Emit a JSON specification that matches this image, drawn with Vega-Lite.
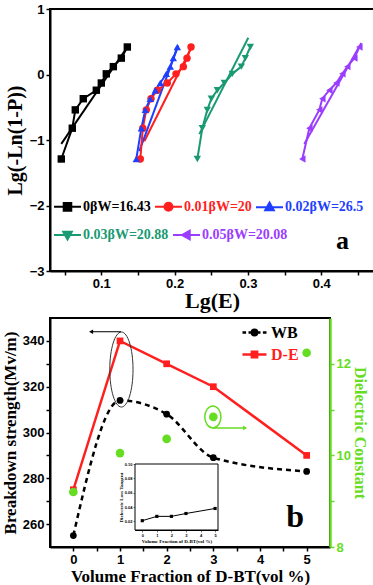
{
  "$schema": "https://vega.github.io/schema/vega-lite/v6.json",
  "padding": {"left": 0, "top": 2, "right": 0, "bottom": 0},
  "config": {
    "font": "Liberation Sans",
    "view": {"stroke": "black", "strokeWidth": 2},
    "axis": {"labelFont": "Liberation Sans", "labelFontWeight": "bold", "labelFontSize": 13, "labelColor": "black", "titleFont": "Liberation Serif", "titleFontWeight": "bold", "titleColor": "black", "domainColor": "black", "domainWidth": 2, "tickColor": "black", "tickWidth": 1.5, "tickSize": 4, "grid": false, "labelPadding": 2},
    "legend": {"title": null, "labelFont": "Liberation Serif", "labelFontWeight": "bold", "labelLimit": 0}
  },
  "datasets": {
    "weibull": [
      {"sample": "0βW=16.43", "lgE": 0.0454, "lgP": -1.29}, {"sample": "0βW=16.43", "lgE": 0.0604, "lgP": -0.82}, {"sample": "0βW=16.43", "lgE": 0.0645, "lgP": -0.54}, {"sample": "0βW=16.43", "lgE": 0.0754, "lgP": -0.37}, {"sample": "0βW=16.43", "lgE": 0.0932, "lgP": -0.24}, {"sample": "0βW=16.43", "lgE": 0.1000, "lgP": -0.13}, {"sample": "0βW=16.43", "lgE": 0.1068, "lgP": 0.01}, {"sample": "0βW=16.43", "lgE": 0.1164, "lgP": 0.12}, {"sample": "0βW=16.43", "lgE": 0.1273, "lgP": 0.25}, {"sample": "0βW=16.43", "lgE": 0.1355, "lgP": 0.42},
      {"sample": "0.01βW=20", "lgE": 0.1532, "lgP": -1.29}, {"sample": "0.01βW=20", "lgE": 0.1566, "lgP": -0.82}, {"sample": "0.01βW=20", "lgE": 0.1614, "lgP": -0.54}, {"sample": "0.01βW=20", "lgE": 0.1678, "lgP": -0.37}, {"sample": "0.01βW=20", "lgE": 0.1764, "lgP": -0.24}, {"sample": "0.01βW=20", "lgE": 0.1900, "lgP": -0.13}, {"sample": "0.01βW=20", "lgE": 0.2019, "lgP": 0.01}, {"sample": "0.01βW=20", "lgE": 0.2119, "lgP": 0.12}, {"sample": "0.01βW=20", "lgE": 0.2169, "lgP": 0.25}, {"sample": "0.01βW=20", "lgE": 0.2224, "lgP": 0.42},
      {"sample": "0.02βW=26.5", "lgE": 0.1477, "lgP": -1.29}, {"sample": "0.02βW=26.5", "lgE": 0.1546, "lgP": -0.82}, {"sample": "0.02βW=26.5", "lgE": 0.1600, "lgP": -0.54}, {"sample": "0.02βW=26.5", "lgE": 0.1668, "lgP": -0.37}, {"sample": "0.02βW=26.5", "lgE": 0.1737, "lgP": -0.24}, {"sample": "0.02βW=26.5", "lgE": 0.1805, "lgP": -0.13}, {"sample": "0.02βW=26.5", "lgE": 0.1887, "lgP": 0.01}, {"sample": "0.02βW=26.5", "lgE": 0.1941, "lgP": 0.12}, {"sample": "0.02βW=26.5", "lgE": 0.1982, "lgP": 0.25}, {"sample": "0.02βW=26.5", "lgE": 0.2037, "lgP": 0.42},
      {"sample": "0.03βW=20.88", "lgE": 0.2310, "lgP": -1.29}, {"sample": "0.03βW=20.88", "lgE": 0.2378, "lgP": -0.82}, {"sample": "0.03βW=20.88", "lgE": 0.2446, "lgP": -0.54}, {"sample": "0.03βW=20.88", "lgE": 0.2501, "lgP": -0.37}, {"sample": "0.03βW=20.88", "lgE": 0.2583, "lgP": -0.24}, {"sample": "0.03βW=20.88", "lgE": 0.2678, "lgP": -0.13}, {"sample": "0.03βW=20.88", "lgE": 0.2787, "lgP": 0.01}, {"sample": "0.03βW=20.88", "lgE": 0.2910, "lgP": 0.12}, {"sample": "0.03βW=20.88", "lgE": 0.2965, "lgP": 0.25}, {"sample": "0.03βW=20.88", "lgE": 0.3033, "lgP": 0.42},
      {"sample": "0.05βW=20.08", "lgE": 0.3742, "lgP": -1.29}, {"sample": "0.05βW=20.08", "lgE": 0.3838, "lgP": -0.82}, {"sample": "0.05βW=20.08", "lgE": 0.3974, "lgP": -0.54}, {"sample": "0.05βW=20.08", "lgE": 0.4015, "lgP": -0.37}, {"sample": "0.05βW=20.08", "lgE": 0.4111, "lgP": -0.24}, {"sample": "0.05βW=20.08", "lgE": 0.4206, "lgP": -0.13}, {"sample": "0.05βW=20.08", "lgE": 0.4288, "lgP": 0.01}, {"sample": "0.05βW=20.08", "lgE": 0.4356, "lgP": 0.12}, {"sample": "0.05βW=20.08", "lgE": 0.4452, "lgP": 0.25}, {"sample": "0.05βW=20.08", "lgE": 0.4520, "lgP": 0.42}
    ],
    "fits": [
      {"sample": "0βW=16.43", "lgE": 0.0454, "lgP": -1.06}, {"sample": "0βW=16.43", "lgE": 0.1355, "lgP": 0.42},
      {"sample": "0.01βW=20", "lgE": 0.1587, "lgP": -1.02}, {"sample": "0.01βW=20", "lgE": 0.2241, "lgP": 0.44},
      {"sample": "0.02βW=26.5", "lgE": 0.1518, "lgP": -1.17}, {"sample": "0.02βW=26.5", "lgE": 0.2050, "lgP": 0.44},
      {"sample": "0.03βW=20.88", "lgE": 0.2337, "lgP": -0.91}, {"sample": "0.03βW=20.88", "lgE": 0.3005, "lgP": 0.56},
      {"sample": "0.05βW=20.08", "lgE": 0.3769, "lgP": -1.06}, {"sample": "0.05βW=20.08", "lgE": 0.4547, "lgP": 0.48}
    ],
    "breakdown": [
      {"method": "WB", "vf": 0, "bs": 255}, {"method": "WB", "vf": 1, "bs": 314}, {"method": "WB", "vf": 2, "bs": 308}, {"method": "WB", "vf": 3, "bs": 289}, {"method": "WB", "vf": 5, "bs": 283},
      {"method": "D-E", "vf": 0, "bs": 275}, {"method": "D-E", "vf": 1, "bs": 340}, {"method": "D-E", "vf": 2, "bs": 330}, {"method": "D-E", "vf": 3, "bs": 320}, {"method": "D-E", "vf": 5, "bs": 290}
    ],
    "dielectric": [
      {"vf": 0, "eps": 9.2}, {"vf": 1, "eps": 10.05}, {"vf": 2, "eps": 10.36}, {"vf": 3, "eps": 10.84}, {"vf": 5, "eps": 12.24}
    ],
    "loss": [
      {"vf": 0, "tan": 0.021}, {"vf": 1, "tan": 0.027}, {"vf": 2, "tan": 0.027}, {"vf": 3, "tan": 0.031}, {"vf": 5, "tan": 0.038}
    ]
  },
  "columns": 1,
  "align": "none",
  "spacing": 5,
  "resolve": {"scale": {"color": "independent"}, "legend": {"color": "independent"}},
  "concat": [
    {
      "width": 324,
      "height": 262,
      "resolve": {"scale": {"color": "independent"}, "legend": {"color": "independent"}},
      "layer": [
        {
          "encoding": {
            "x": {"field": "lgE", "type": "quantitative", "scale": {"domain": [0.03, 0.472], "nice": false, "zero": false},
              "axis": {"title": "Lg(E)", "titleFontSize": 22, "titlePadding": 0, "values": [0.05, 0.1, 0.15, 0.2, 0.25, 0.3, 0.35, 0.4, 0.45], "format": ".2~f", "labelExpr": "length(datum.label) == 3 ? datum.label : ''"}},
            "y": {"field": "lgP", "type": "quantitative", "scale": {"domain": [-3, 1], "nice": false, "zero": false},
              "axis": {"title": "Lg(-Ln(1-P))", "titleFontSize": 20, "titlePadding": 4, "values": [-3, -2, -1, 0, 1], "format": "d"}},
            "color": {"field": "sample", "type": "nominal", "scale": {"domain": ["0βW=16.43", "0.01βW=20", "0.02βW=26.5"], "range": ["#000000", "#ff1f1f", "#1f3fff"]},
              "legend": {"orient": "none", "legendX": 3, "legendY": 183, "direction": "horizontal", "columnPadding": 0, "symbolSize": 729, "labelOffset": 1, "labelFontSize": 14,
                "encode": {
                  "symbols": {"update": {
                    "shape": {"signal": "['M-1,0H1M-0.28,-0.28H0.28V0.28H-0.28Z','M-1,0H1M0.3,0A0.3,0.3 0 1,1 -0.3,0A0.3,0.3 0 1,1 0.3,0Z','M-1,0H1M0,-0.34L0.32,0.24L-0.32,0.24Z'][datum.index]"},
                    "stroke": {"signal": "['#000000','#ff1f1f','#1f3fff'][datum.index]"},
                    "fill": {"signal": "['#000000','#ff1f1f','#1f3fff'][datum.index]"},
                    "strokeWidth": {"value": 2},
                    "opacity": {"value": 1}
                  }},
                  "labels": {"update": {"fill": {"signal": "['#000000','#ff1f1f','#1f3fff'][datum.index]"}}}
                }}}
          },
          "layer": [
            {"data": {"name": "fits"}, "transform": [{"filter": "indexof(['0βW=16.43','0.01βW=20','0.02βW=26.5'], datum.sample) >= 0"}], "mark": {"type": "line", "strokeWidth": 2}},
            {"data": {"name": "weibull"}, "transform": [{"filter": "indexof(['0βW=16.43','0.01βW=20','0.02βW=26.5'], datum.sample) >= 0"}], "mark": {"type": "line", "strokeWidth": 2}},
            {"data": {"name": "weibull"}, "transform": [{"filter": "datum.sample == '0βW=16.43'"}], "mark": {"type": "point", "shape": "square", "filled": true, "opacity": 1, "size": 55}},
            {"data": {"name": "weibull"}, "transform": [{"filter": "datum.sample == '0.01βW=20'"}], "mark": {"type": "point", "shape": "circle", "filled": true, "opacity": 1, "size": 55}},
            {"data": {"name": "weibull"}, "transform": [{"filter": "datum.sample == '0.02βW=26.5'"}], "mark": {"type": "point", "shape": "triangle-up", "filled": true, "opacity": 1, "size": 55}}
          ]
        },
        {
          "encoding": {
            "x": {"field": "lgE", "type": "quantitative", "scale": {"domain": [0.03, 0.472], "nice": false, "zero": false},
              "axis": {"title": "Lg(E)", "titleFontSize": 22, "titlePadding": 0, "values": [0.05, 0.1, 0.15, 0.2, 0.25, 0.3, 0.35, 0.4, 0.45], "format": ".2~f", "labelExpr": "length(datum.label) == 3 ? datum.label : ''"}},
            "y": {"field": "lgP", "type": "quantitative", "scale": {"domain": [-3, 1], "nice": false, "zero": false},
              "axis": {"title": "Lg(-Ln(1-P))", "titleFontSize": 20, "titlePadding": 4, "values": [-3, -2, -1, 0, 1], "format": "d"}},
            "color": {"field": "sample", "type": "nominal", "scale": {"domain": ["0.03βW=20.88", "0.05βW=20.08"], "range": ["#1a9a73", "#9b3dff"]},
              "legend": {"orient": "none", "legendX": 3, "legendY": 211, "direction": "horizontal", "columnPadding": 0, "symbolSize": 729, "labelOffset": 1, "labelFontSize": 14,
                "encode": {
                  "symbols": {"update": {
                    "shape": {"signal": "['M-1,0H1M0,0.34L0.32,-0.24L-0.32,-0.24Z','M-1,0H1M-0.34,0L0.24,-0.32L0.24,0.32Z'][datum.index]"},
                    "stroke": {"signal": "['#1a9a73','#9b3dff'][datum.index]"},
                    "fill": {"signal": "['#1a9a73','#9b3dff'][datum.index]"},
                    "strokeWidth": {"value": 2},
                    "opacity": {"value": 1}
                  }},
                  "labels": {"update": {"fill": {"signal": "['#1a9a73','#9b3dff'][datum.index]"}}}
                }}}
          },
          "layer": [
            {"data": {"name": "fits"}, "transform": [{"filter": "indexof(['0.03βW=20.88','0.05βW=20.08'], datum.sample) >= 0"}], "mark": {"type": "line", "strokeWidth": 2}},
            {"data": {"name": "weibull"}, "transform": [{"filter": "indexof(['0.03βW=20.88','0.05βW=20.08'], datum.sample) >= 0"}], "mark": {"type": "line", "strokeWidth": 2}},
            {"data": {"name": "weibull"}, "transform": [{"filter": "datum.sample == '0.03βW=20.88'"}], "mark": {"type": "point", "shape": "triangle-down", "filled": true, "opacity": 1, "size": 55}},
            {"data": {"name": "weibull"}, "transform": [{"filter": "datum.sample == '0.05βW=20.08'"}], "mark": {"type": "point", "shape": "triangle-left", "filled": true, "opacity": 1, "size": 55}}
          ]
        },
        {
          "data": {"values": [{"panel": "a", "lgE": 0.429, "lgP": -2.66}]},
          "mark": {"type": "text", "font": "Liberation Serif", "fontWeight": "bold", "fontSize": 26, "align": "center", "baseline": "alphabetic", "color": "black"},
          "encoding": {"x": {"field": "lgE", "type": "quantitative"}, "y": {"field": "lgP", "type": "quantitative"}, "text": {"field": "panel"}}
        }
      ]
    },
    {
      "width": 280,
      "height": 229,
      "resolve": {"scale": {"x": "independent", "y": "independent"}},
      "layer": [
        {
          "data": {"name": "breakdown"},
          "encoding": {
            "x": {"field": "vf", "type": "quantitative", "scale": {"domain": [-0.5, 5.5], "nice": false, "zero": false},
              "axis": {"orient": "bottom", "title": "Volume Fraction of D-BT(vol %)", "titleFontSize": 17, "titlePadding": 2, "values": [0, 0.5, 1, 1.5, 2, 2.5, 3, 3.5, 4, 4.5, 5], "labelExpr": "datum.value % 1 == 0 ? format(datum.value, 'd') : ''"}},
            "y": {"field": "bs", "type": "quantitative", "scale": {"domain": [250, 350], "nice": false, "zero": false},
              "axis": {"orient": "left", "title": "Breakdown strength(Mv/m)", "titleFontSize": 17, "titlePadding": 3, "values": [260, 270, 280, 290, 300, 310, 320, 330, 340], "labelExpr": "datum.value % 20 == 0 ? datum.label : ''"}},
            "color": {"field": "method", "type": "nominal", "scale": {"domain": ["WB", "D-E"], "range": ["#000000", "#ff1f1f"]},
              "legend": {"orient": "none", "legendX": 191, "legendY": 1, "direction": "vertical", "rowPadding": 0, "symbolSize": 576, "labelOffset": 3, "labelFontSize": 16,
                "encode": {
                  "symbols": {"update": {
                    "shape": {"signal": "['M-1,0H-0.7M-0.5,0H-0.3M0.3,0H0.5M0.7,0H1M0.22,0A0.22,0.22 0 1,1 -0.22,0A0.22,0.22 0 1,1 0.22,0Z','M-1,0H1M-0.22,-0.22H0.22V0.22H-0.22Z'][datum.index]"},
                    "stroke": {"signal": "['#000000','#ff1f1f'][datum.index]"},
                    "fill": {"signal": "['#000000','#ff1f1f'][datum.index]"},
                    "strokeWidth": {"value": 2.5},
                    "opacity": {"value": 1}
                  }},
                  "labels": {"update": {"fill": {"signal": "['#000000','#ff1f1f'][datum.index]"}}}
                }}}
          },
          "layer": [
            {"transform": [{"filter": "datum.method == 'WB'"}], "mark": {"type": "line", "strokeWidth": 2.5, "strokeDash": [5, 4], "interpolate": "monotone"}},
            {"transform": [{"filter": "datum.method == 'WB'"}], "mark": {"type": "point", "shape": "circle", "filled": true, "opacity": 1, "size": 45}},
            {"transform": [{"filter": "datum.method == 'D-E'"}], "mark": {"type": "line", "strokeWidth": 2.5}},
            {"transform": [{"filter": "datum.method == 'D-E'"}], "mark": {"type": "point", "shape": "square", "filled": true, "opacity": 1, "size": 45}},
            {"data": {"values": [{"note": "ellipse", "vf": 1.03, "bs": 327.5}]}, "mark": {"type": "point", "shape": "M0,-1A0.31,1 0 1,1 0,1A0.31,1 0 1,1 0,-1Z", "filled": false, "strokeWidth": 1, "size": 5625, "opacity": 1},
              "encoding": {"color": {"value": "#333333"}}},
            {"data": {"values": [{"note": "arrow", "vf": 0.4, "vf_end": 1.02, "bs": 344}]}, "mark": {"type": "rule", "strokeWidth": 1},
              "encoding": {"x2": {"field": "vf_end"}, "color": {"value": "black"}}},
            {"data": {"values": [{"note": "arrowhead", "vf": 0.38, "bs": 344}]}, "mark": {"type": "point", "shape": "triangle-left", "filled": true, "size": 22, "opacity": 1},
              "encoding": {"color": {"value": "black"}}},
            {"data": {"values": [{"panel": "b", "vf": 4.755, "bs": 258.7}]}, "mark": {"type": "text", "font": "Liberation Serif", "fontWeight": "bold", "fontSize": 32, "align": "center", "baseline": "alphabetic"},
              "encoding": {"text": {"field": "panel"}, "color": {"value": "black"}}}
          ]
        },
        {
          "data": {"name": "dielectric"},
          "encoding": {
            "x": {"field": "vf", "type": "quantitative", "scale": {"domain": [-0.5, 5.5], "nice": false, "zero": false}, "axis": null},
            "y": {"field": "eps", "type": "quantitative", "scale": {"domain": [8, 13], "nice": false, "zero": false},
              "axis": {"orient": "right", "title": "Dielectric Constant", "titleFontSize": 16, "titleColor": "#66dd22", "titlePadding": 1, "labelColor": "#66dd22", "domainColor": "#66dd22", "domainWidth": 2.5, "tickColor": "#66dd22", "values": [8, 9, 10, 11, 12], "labelExpr": "datum.value % 2 == 0 ? datum.label : ''"}}
          },
          "layer": [
            {"mark": {"type": "point", "shape": "circle", "filled": true, "opacity": 1, "size": 75, "color": "#66dd22"}},
            {"data": {"values": [{"note": "ellipse", "vf": 2.99, "eps": 10.84}]}, "mark": {"type": "point", "shape": "M0,-1A0.73,1 0 1,1 0,1A0.73,1 0 1,1 0,-1Z", "filled": false, "strokeWidth": 1.5, "size": 484, "opacity": 1, "color": "#66dd22"}},
            {"data": {"values": [{"note": "arrow", "vf": 2.99, "vf_end": 3.66, "eps": 10.6}]}, "mark": {"type": "rule", "strokeWidth": 1.5, "color": "#66dd22"},
              "encoding": {"x2": {"field": "vf_end"}}},
            {"data": {"values": [{"note": "arrowhead", "vf": 3.68, "eps": 10.6}]}, "mark": {"type": "point", "shape": "triangle-right", "filled": true, "size": 22, "opacity": 1, "color": "#66dd22"}}
          ]
        },
        {
          "data": {"name": "loss"},
          "encoding": {
            "x": {"field": "vf", "type": "quantitative", "scale": {"domain": [-0.5, 5.2], "range": [85, 168], "nice": false, "zero": false},
              "axis": {"orient": "bottom", "offset": -17, "title": "Volume Fraction of D-BT(vol %)", "titleFontSize": 5, "titlePadding": 1, "labelFontSize": 4, "labelPadding": 1, "tickSize": 2, "tickWidth": 0.5, "domainWidth": 1, "values": [0, 1, 2, 3, 4, 5]}},
            "y": {"field": "tan", "type": "quantitative", "scale": {"domain": [0.008, 0.1], "range": [212, 146], "nice": false, "zero": false},
              "axis": {"orient": "left", "offset": -85, "title": "Dielectric Loss Tangent", "titleFontSize": 5, "titlePadding": 1, "labelFontSize": 4, "labelPadding": 1, "tickSize": 2, "tickWidth": 0.5, "domainWidth": 1, "values": [0.02, 0.04, 0.06, 0.08, 0.1], "format": ".2f"}}
          },
          "layer": [
            {"data": {"values": [{"note": "inset frame", "vf": -0.5, "vf_end": 5.2, "tan": 0.008, "tan_end": 0.1}]}, "mark": {"type": "rect", "fill": "white", "stroke": "black", "strokeWidth": 1},
              "encoding": {"x2": {"field": "vf_end"}, "y2": {"field": "tan_end"}}},
            {"mark": {"type": "line", "color": "black", "strokeWidth": 1}},
            {"mark": {"type": "point", "shape": "square", "filled": true, "opacity": 1, "size": 10, "color": "black"}}
          ]
        }
      ]
    }
  ]
}
